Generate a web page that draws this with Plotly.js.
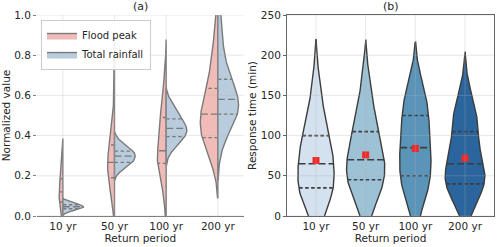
<!DOCTYPE html>
<html><head><meta charset="utf-8">
<script src="https://cdn.plot.ly/plotly-3.0.1.min.js"></script>
<style>html,body{margin:0;padding:0;background:#fff}#chart{width:500px;height:247px}</style>
</head><body><div id="chart"></div>
<script>
// ---------- data ----------
const periods = ['10 yr', '50 yr', '100 yr', '200 yr'];
const yTicksA = [0, 0.2, 0.4, 0.6, 0.8, 1.0];
const yTickTextA = ['0.0', '0.2', '0.4', '0.6', '0.8', '1.0'];
const yTicksB = [0, 50, 100, 150, 200, 250];

// panel (a): normalized samples, Flood peak (left half) and Total rainfall (right half)
const floodPeak10 = [0.005, 0.015, 0.03, 0.045, 0.055, 0.062, 0.07, 0.08, 0.09, 0.10, 0.11, 0.115, 0.12, 0.13, 0.14, 0.15, 0.16, 0.175, 0.185, 0.20, 0.215, 0.23, 0.25, 0.27, 0.30];
const floodPeak50 = [0.05, 0.09, 0.12, 0.15, 0.17, 0.18, 0.19, 0.21, 0.22, 0.235, 0.245, 0.255, 0.267, 0.275, 0.285, 0.30, 0.315, 0.33, 0.353, 0.37, 0.39, 0.42, 0.47, 0.56, 0.71];
const floodPeak100 = [0.06, 0.14, 0.19, 0.22, 0.24, 0.25, 0.262, 0.27, 0.28, 0.29, 0.30, 0.31, 0.325, 0.35, 0.38, 0.41, 0.44, 0.46, 0.49, 0.50, 0.52, 0.55, 0.58, 0.63, 0.71];
const floodPeak200 = [0.27, 0.31, 0.345, 0.365, 0.378, 0.386, 0.39, 0.42, 0.445, 0.465, 0.48, 0.495, 0.507, 0.52, 0.535, 0.55, 0.575, 0.605, 0.635, 0.665, 0.70, 0.74, 0.79, 0.85, 0.93];
const rainfall10 = [0.018, 0.024, 0.028, 0.031, 0.033, 0.035, 0.036, 0.038, 0.04, 0.041, 0.043, 0.044, 0.046, 0.047, 0.049, 0.05, 0.052, 0.054, 0.056, 0.058, 0.06, 0.062, 0.065, 0.068, 0.072];
const rainfall50 = [0.22, 0.235, 0.245, 0.252, 0.258, 0.263, 0.267, 0.272, 0.277, 0.282, 0.287, 0.292, 0.298, 0.302, 0.306, 0.31, 0.314, 0.318, 0.323, 0.328, 0.334, 0.34, 0.35, 0.362, 0.378];
const rainfall100 = [0.32, 0.345, 0.36, 0.37, 0.38, 0.388, 0.395, 0.402, 0.41, 0.417, 0.423, 0.43, 0.436, 0.442, 0.448, 0.455, 0.462, 0.472, 0.483, 0.495, 0.505, 0.515, 0.53, 0.548, 0.57];
const rainfall200 = [0.35, 0.41, 0.45, 0.475, 0.49, 0.50, 0.507, 0.515, 0.525, 0.535, 0.548, 0.562, 0.58, 0.595, 0.61, 0.625, 0.64, 0.66, 0.68, 0.71, 0.75, 0.80, 0.86, 0.94, 1.03];

// panel (b): response time samples (min)
const response10 = [5, 12, 18, 22, 26, 29, 32, 35, 40, 45, 50, 55, 58, 62, 65, 70, 75, 80, 85, 90, 95, 100, 105, 110, 118, 128, 140, 155, 175];
const response50 = [8, 15, 22, 28, 33, 37, 41, 45, 49, 53, 56, 59, 62, 66, 70, 74, 78, 83, 88, 94, 100, 105, 110, 116, 123, 132, 145, 160, 175];
const response100 = [10, 18, 25, 31, 37, 42, 46, 50, 55, 60, 65, 70, 75, 80, 85, 90, 95, 100, 106, 112, 118, 125, 130, 135, 140, 146, 155, 163, 170];
const response200 = [8, 18, 25, 30, 34, 37, 39, 40, 45, 48, 52, 55, 58, 61, 65, 70, 75, 82, 90, 97, 102, 105, 115, 120, 125, 130, 136, 145, 162];
const meanResponse = [69, 76, 84, 72];

// ---------- styling ----------
const pinkFill = '#f1bcb8', blueFill = '#b9ccdd', grayA = '#7a7a7a';
const bluesB = ['#d4e1ee', '#9dc2d6', '#5a94b9', '#2a659d'], grayB = '#3c3c3c';
const textColor = '#262626';
const font = 'DejaVu Sans, Liberation Sans, sans-serif';
const halfW = 0.4;

// ---------- helpers ----------
function quantile(s, p) { const h = (s.length - 1) * p, lo = Math.floor(h), hi = Math.ceil(h); return s[lo] + (s[hi] - s[lo]) * (h - lo); }
function kde(vals) {
  const n = vals.length, mean = vals.reduce((a, b) => a + b, 0) / n;
  const sd = Math.sqrt(vals.reduce((a, b) => a + (b - mean) ** 2, 0) / (n - 1));
  const bw = sd * Math.pow(n, -0.2);
  const lo = Math.min(...vals) - 2 * bw, hi = Math.max(...vals) + 2 * bw;
  const ys = [], ds = [];
  for (let i = 0; i < 120; i++) {
    const y = lo + (hi - lo) * i / 119; let s = 0;
    for (const v of vals) { const u = (y - v) / bw; s += Math.exp(-0.5 * u * u); }
    ys.push(y); ds.push(s / (n * bw * Math.sqrt(2 * Math.PI)));
  }
  const sorted = [...vals].sort((a, b) => a - b);
  return { ys, ds, max: Math.max(...ds), q: [quantile(sorted, 0.25), quantile(sorted, 0.5), quantile(sorted, 0.75)] };
}
function densAt(k, v) { let idx = 0, best = Infinity; k.ys.forEach((y, i) => { const d = Math.abs(y - v); if (d < best) { best = d; idx = i; } }); return k.ds[idx]; }

const traces = [];
const qLines = { a: { q: { x: [], y: [] }, m: { x: [], y: [] } }, b: { q: { x: [], y: [] }, m: { x: [], y: [] } } };
function addQ(panel, which, x0, x1, y) { const L = qLines[panel][which]; L.x.push(x0, x1, null); L.y.push(y, y, null); }

// panel (a): split violins, area scaled within each return period
const floodSets = [floodPeak10, floodPeak50, floodPeak100, floodPeak200];
const rainSets = [rainfall10, rainfall50, rainfall100, rainfall200];
periods.forEach((p, i) => {
  const kl = kde(floodSets[i]), kr = kde(rainSets[i]);
  const m = Math.max(kl.max, kr.max);
  [[kl, -1, pinkFill, 'Flood peak', 'fp'], [kr, 1, blueFill, 'Total rainfall', 'tr']].forEach(([k, side, col, name, grp]) => {
    const xs = k.ys.map((y, j) => i + side * halfW * k.ds[j] / m).concat(k.ys.slice().reverse().map(() => i));
    const ys = k.ys.concat(k.ys.slice().reverse());
    xs.push(xs[0]); ys.push(ys[0]);
    traces.push({ type: 'scatter', mode: 'lines', x: xs, y: ys, xaxis: 'x', yaxis: 'y', fill: 'toself', fillcolor: col,
      line: { color: grayA, width: 1.4 }, name: name, legendgroup: grp, showlegend: i === 0, hoverinfo: 'skip' });
    k.q.forEach((qv, qi) => {
      const w = halfW * densAt(k, qv) / m * 0.99;
      addQ('a', qi === 1 ? 'm' : 'q', i, i + side * w, qv);
    });
  });
});

// panel (b): full violins, area scaled across all return periods
const respSets = [response10, response50, response100, response200];
const kb = respSets.map(kde);
const mb = Math.max(...kb.map(k => k.max));
kb.forEach((k, i) => {
  const xs = k.ys.map((y, j) => i - halfW * k.ds[j] / mb).concat(k.ys.slice().reverse().map((y, j) => i + halfW * k.ds[k.ds.length - 1 - j] / mb));
  const ys = k.ys.concat(k.ys.slice().reverse());
  xs.push(xs[0]); ys.push(ys[0]);
  traces.push({ type: 'scatter', mode: 'lines', x: xs, y: ys, xaxis: 'x2', yaxis: 'y2', fill: 'toself', fillcolor: bluesB[i],
    line: { color: grayB, width: 1.4 }, showlegend: false, hoverinfo: 'skip' });
  k.q.forEach((qv, qi) => {
    const w = halfW * densAt(k, qv) / mb * 0.99;
    addQ('b', qi === 1 ? 'm' : 'q', i - w, i + w, qv);
  });
});

traces.push({ type: 'scatter', mode: 'lines', x: qLines.a.q.x, y: qLines.a.q.y, xaxis: 'x', yaxis: 'y', line: { color: grayA, width: 1.4, dash: '3.5px,2.5px' }, showlegend: false, hoverinfo: 'skip' });
traces.push({ type: 'scatter', mode: 'lines', x: qLines.a.m.x, y: qLines.a.m.y, xaxis: 'x', yaxis: 'y', line: { color: grayA, width: 1.4, dash: '7px,3px' }, showlegend: false, hoverinfo: 'skip' });
traces.push({ type: 'scatter', mode: 'lines', x: qLines.b.q.x, y: qLines.b.q.y, xaxis: 'x2', yaxis: 'y2', line: { color: grayB, width: 1.6, dash: '3.5px,2.5px' }, showlegend: false, hoverinfo: 'skip' });
traces.push({ type: 'scatter', mode: 'lines', x: qLines.b.m.x, y: qLines.b.m.y, xaxis: 'x2', yaxis: 'y2', line: { color: grayB, width: 1.6, dash: '7px,3px' }, showlegend: false, hoverinfo: 'skip' });
traces.push({ type: 'scatter', mode: 'markers', x: periods.map((p, i) => i), y: meanResponse, xaxis: 'x2', yaxis: 'y2',
  marker: { symbol: 'square', size: 7, color: '#ee2a2a', line: { width: 0 } }, showlegend: false, hoverinfo: 'skip' });

// grid lines drawn above the violins
const gridColor = 'rgba(176,176,176,0.3)';
const shapes = [];
[['x', 'y', yTicksA], ['x2', 'y2', yTicksB]].forEach(([xa, ya, ticks]) => {
  periods.forEach((p, i) => shapes.push({ type: 'line', layer: 'above', xref: xa, yref: ya + ' domain', x0: i, x1: i, y0: 0, y1: 1, line: { color: gridColor, width: 1 } }));
  ticks.forEach(t => shapes.push({ type: 'line', layer: 'above', xref: xa + ' domain', yref: ya, x0: 0, x1: 1, y0: t, y1: t, line: { color: gridColor, width: 1 } }));
});

const tickFont = { family: font, size: 10.5, color: textColor };
const layout = {
  width: 500, height: 247, margin: { l: 0, r: 0, t: 15, b: 31 },
  paper_bgcolor: '#fff', plot_bgcolor: '#fff', font: { family: font, color: textColor, size: 10.5 },
  xaxis: { domain: [0.074, 0.4874], range: [-0.5, 3.5], tickvals: [0, 1, 2, 3], ticktext: periods, showgrid: false, zeroline: false,
    showline: true, linecolor: '#808080', linewidth: 1.2, ticks: '', tickfont: tickFont, title: { text: 'Return period', font: tickFont, standoff: 0 } },
  yaxis: { domain: [0, 1], range: [0, 1], tickvals: yTicksA, ticktext: yTickTextA, showgrid: false, zeroline: false, showline: false,
    ticks: 'outside', ticklen: 3, tickcolor: '#808080', tickfont: tickFont, title: { text: 'Normalized value', font: tickFont, standoff: 2 } },
  xaxis2: { domain: [0.574, 0.988], anchor: 'y2', range: [-0.584, 3.584], tickvals: [0, 1, 2, 3], ticktext: periods, showgrid: false, zeroline: false,
    showline: true, mirror: true, linecolor: '#666', linewidth: 1, ticks: '', tickfont: tickFont, title: { text: 'Return period', font: tickFont, standoff: 0 } },
  yaxis2: { domain: [0, 1], anchor: 'x2', range: [0, 250], tickvals: yTicksB, showgrid: false, zeroline: false, showline: true, mirror: true,
    linecolor: '#666', linewidth: 1, ticks: 'outside', ticklen: 3, tickcolor: '#666', tickfont: tickFont, title: { text: 'Response time (min)', font: tickFont, standoff: 2 } },
  legend: { x: 0.082, y: 0.975, xanchor: 'left', yanchor: 'top', bgcolor: 'rgba(255,255,255,0.85)', bordercolor: '#cccccc', borderwidth: 1,
    font: { family: font, size: 10, color: textColor }, tracegroupgap: 0 },
  annotations: [
    { xref: 'x domain', yref: 'y domain', x: 0.5, y: 1, yanchor: 'bottom', showarrow: false, text: '(a)', font: { family: font, size: 11, color: textColor }, yshift: 0 },
    { xref: 'x2 domain', yref: 'y2 domain', x: 0.5, y: 1, yanchor: 'bottom', showarrow: false, text: '(b)', font: { family: font, size: 11, color: textColor }, yshift: 0 }
  ],
  shapes: shapes
};
Plotly.newPlot('chart', traces, layout, { displayModeBar: false, staticPlot: true });
</script>
</body></html>
